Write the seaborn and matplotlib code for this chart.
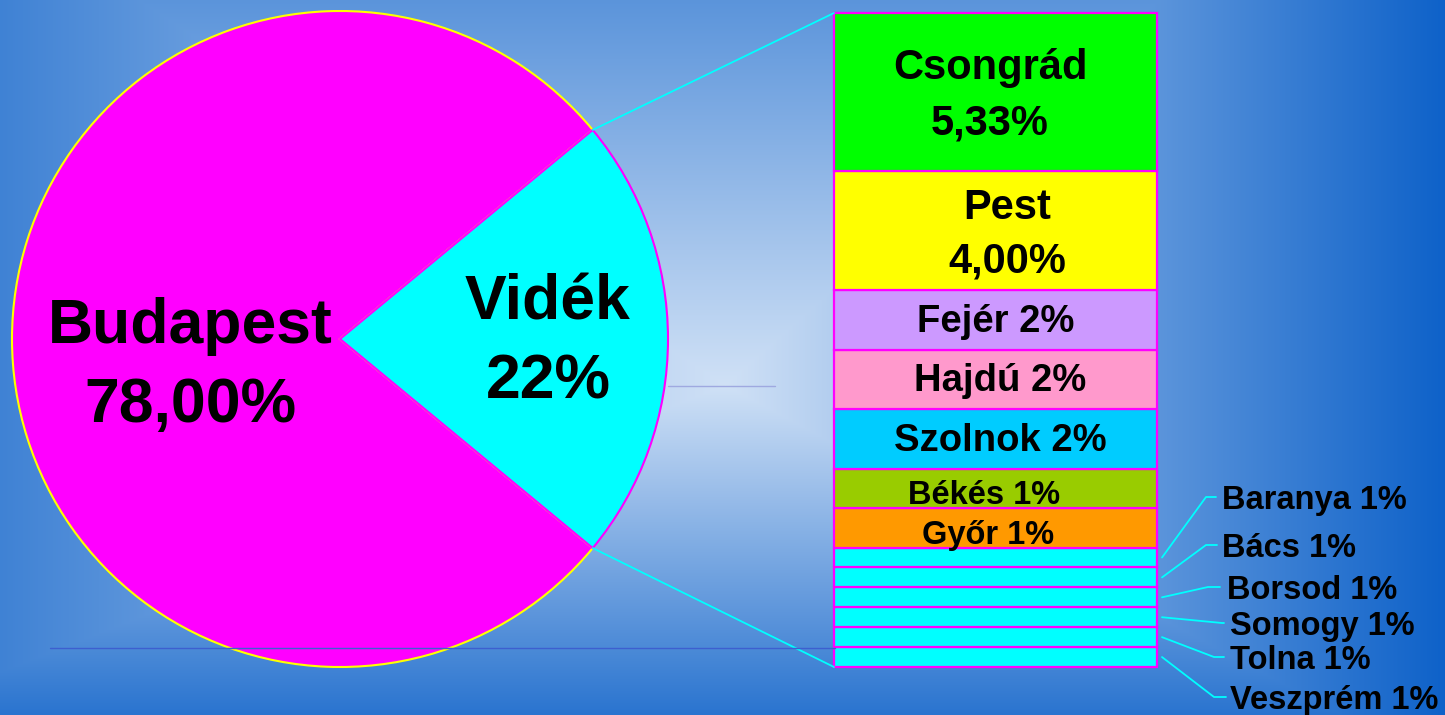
import numpy as np
import pandas as pd
import matplotlib
matplotlib.use("Agg")
import matplotlib.pyplot as plt
import seaborn as sns
from matplotlib.patches import ConnectionPatch
from matplotlib.lines import Line2D

sns.set_style("white")
plt.rcParams['font.family'] = ['Liberation Sans', 'DejaVu Sans']
plt.rcParams['font.weight'] = 'bold'
plt.rcParams['text.color'] = 'black'

# pie: Budapest vs. the rest of the country
pie_names = ["Budapest", "Vidék"]
pie_values = [78.0, 22.0]
pie_labels = ["Budapest\n78,00%", "Vidék\n22%"]
pie_colors = ["#ff00ff", "#00ffff"]
pie_edges = ["#ffff00", "#ff00ff"]

# bar: breakdown of Vidék (top to bottom)
counties = ["Csongrád", "Pest", "Fejér", "Hajdú", "Szolnok", "Békés", "Győr",
            "Baranya", "Bács", "Borsod", "Somogy", "Tolna", "Veszprém"]
shares = [5.33, 4.00, 2.0, 2.0, 2.0, 1.33, 1.33, 0.67, 0.67, 0.67, 0.67, 0.67, 0.67]
bar_labels = ["Csongrád\n5,33%", "Pest\n4,00%", "Fejér 2%", "Hajdú 2%", "Szolnok 2%",
              "Békés 1%", "Győr 1%", "Baranya 1%", "Bács 1%", "Borsod 1%",
              "Somogy 1%", "Tolna 1%", "Veszprém 1%"]
bar_colors = ["#00ff00", "#ffff00", "#cc99ff", "#ff99cc", "#00ccff", "#99cc00", "#ff9900",
              "#00ffff", "#00ffff", "#00ffff", "#00ffff", "#00ffff", "#00ffff"]

W, H = 1445, 715
fig = plt.figure(figsize=(W / 100, H / 100), dpi=100)

# background: rectangular "from centre" gradient
bg = fig.add_axes([0, 0, 1, 1], zorder=-10)
yy, xx = np.mgrid[0:H, 0:W]
cx, cy = 725, 385
dx = np.where(xx < cx, (cx - xx) / 993, (xx - cx) / 735)
dy = np.where(yy < cy, (cy - yy) / 652, (yy - cy) / 393)
t = np.clip(np.maximum(dx, dy), 0, 1)
light = np.array([208, 225, 246]) / 255
dark = np.array([10, 95, 200]) / 255
img = dark + (light - dark) * (1 - t)[..., None]
bg.imshow(img, aspect='auto', extent=[0, W, H, 0])
bg.set_xlim(0, W)
bg.set_ylim(H, 0)
bg.axis('off')

# faint stray lines of the original slide
fig.add_artist(Line2D([50 / W, 835 / W], [1 - 648 / H] * 2, color="#3d5fcf", lw=1))
fig.add_artist(Line2D([668 / W, 775 / W], [1 - 386 / H] * 2, color="#9fa9e0", lw=1))

# pie
r_px = 328
pc_x, pc_y = 340, 339
half = 334
ax_pie = fig.add_axes([(pc_x - half) / W, (H - pc_y - half) / H, 2 * half / W, 2 * half / H])
half_angle = pie_values[1] / sum(pie_values) * 180
wedges, _ = ax_pie.pie(pie_values, colors=pie_colors, startangle=half_angle,
                       radius=1, wedgeprops=dict(linewidth=1.5))
for w, ec in zip(wedges, pie_edges):
    w.set_edgecolor(ec)
lim = half / r_px
ax_pie.set_xlim(-lim, lim)
ax_pie.set_ylim(-lim, lim)
ax_pie.axis('off')

ax_pie.text(-0.457, -0.082, pie_labels[0], ha='center', va='center',
            fontsize=45, fontweight='bold', linespacing=1.43)
ax_pie.text(0.634, -0.011, pie_labels[1], ha='center', va='center',
            fontsize=45, fontweight='bold', linespacing=1.43)

# stacked bar with seaborn
df = pd.DataFrame({"megye": counties, "arány": shares, "x": 0})
ax_bar = fig.add_axes([834 / W, 48 / H, 323 / W, 654 / H])
sns.histplot(data=df, x="x", weights="arány", hue="megye", hue_order=counties,
             palette=dict(zip(counties, bar_colors)), multiple="stack",
             discrete=True, shrink=1, alpha=1, edgecolor="#ff00ff",
             linewidth=1.6, legend=False, ax=ax_bar)
total = sum(shares)
ax_bar.set_xlim(-0.5, 0.5)
ax_bar.set_ylim(0, total)
ax_bar.axis('off')
for p in ax_bar.patches:
    p.set_clip_on(False)

tops = total - np.concatenate([[0], np.cumsum(shares)[:-1]])
centers = tops - np.array(shares) / 2

# labels inside the bar
inner_dx = [-0.017, 0.036, 0.0, 0.014, 0.014, -0.036, -0.023]
inner_dy = [-0.12, -0.13, -0.07, -0.07, -0.07, -0.23, -0.245]
inner_fs = [30, 30, 27.5, 27.5, 27.5, 23.5, 23.5]
inner_ls = [1.49, 1.46, 1.2, 1.2, 1.2, 1.2, 1.2]
for i in range(7):
    ax_bar.text(inner_dx[i], centers[i] + inner_dy[i], bar_labels[i], ha='center',
                va='center', fontsize=inner_fs[i], fontweight='bold',
                linespacing=inner_ls[i])

# callout labels for the small counties
px_per_x = 323
callout_y_px = [497, 545, 587, 623, 657, 697]
corner_px = [1206, 1206, 1208, 1222, 1214, 1214]
end_px = [1216, 1217, 1220, 1224, 1224, 1226]
text_px = [1222, 1222, 1227, 1230, 1230, 1230]
to_x = lambda px: (px - 834) / px_per_x - 0.5
to_y = lambda py: (667 - py) / (654 / total)
for k, i in enumerate(range(7, 13)):
    ly = to_y(callout_y_px[k])
    ax_bar.plot([to_x(1162), to_x(corner_px[k]), to_x(end_px[k])],
                [centers[i], ly, ly], color="#00ffff", lw=1.3, clip_on=False)
    ax_bar.text(to_x(text_px[k]), to_y(callout_y_px[k] + 3.5), bar_labels[i],
                ha='left', va='center', fontsize=23.5, fontweight='bold')

# connector lines pie -> bar
ang = np.deg2rad(half_angle)
for sgn, yb in [(1, total), (-1, 0)]:
    con = ConnectionPatch(xyA=(np.cos(ang), sgn * np.sin(ang)), coordsA=ax_pie.transData,
                          xyB=(-0.5, yb), coordsB=ax_bar.transData,
                          color="#00ffff", lw=1.3)
    fig.add_artist(con)

fig.savefig("out.png", dpi=100)
